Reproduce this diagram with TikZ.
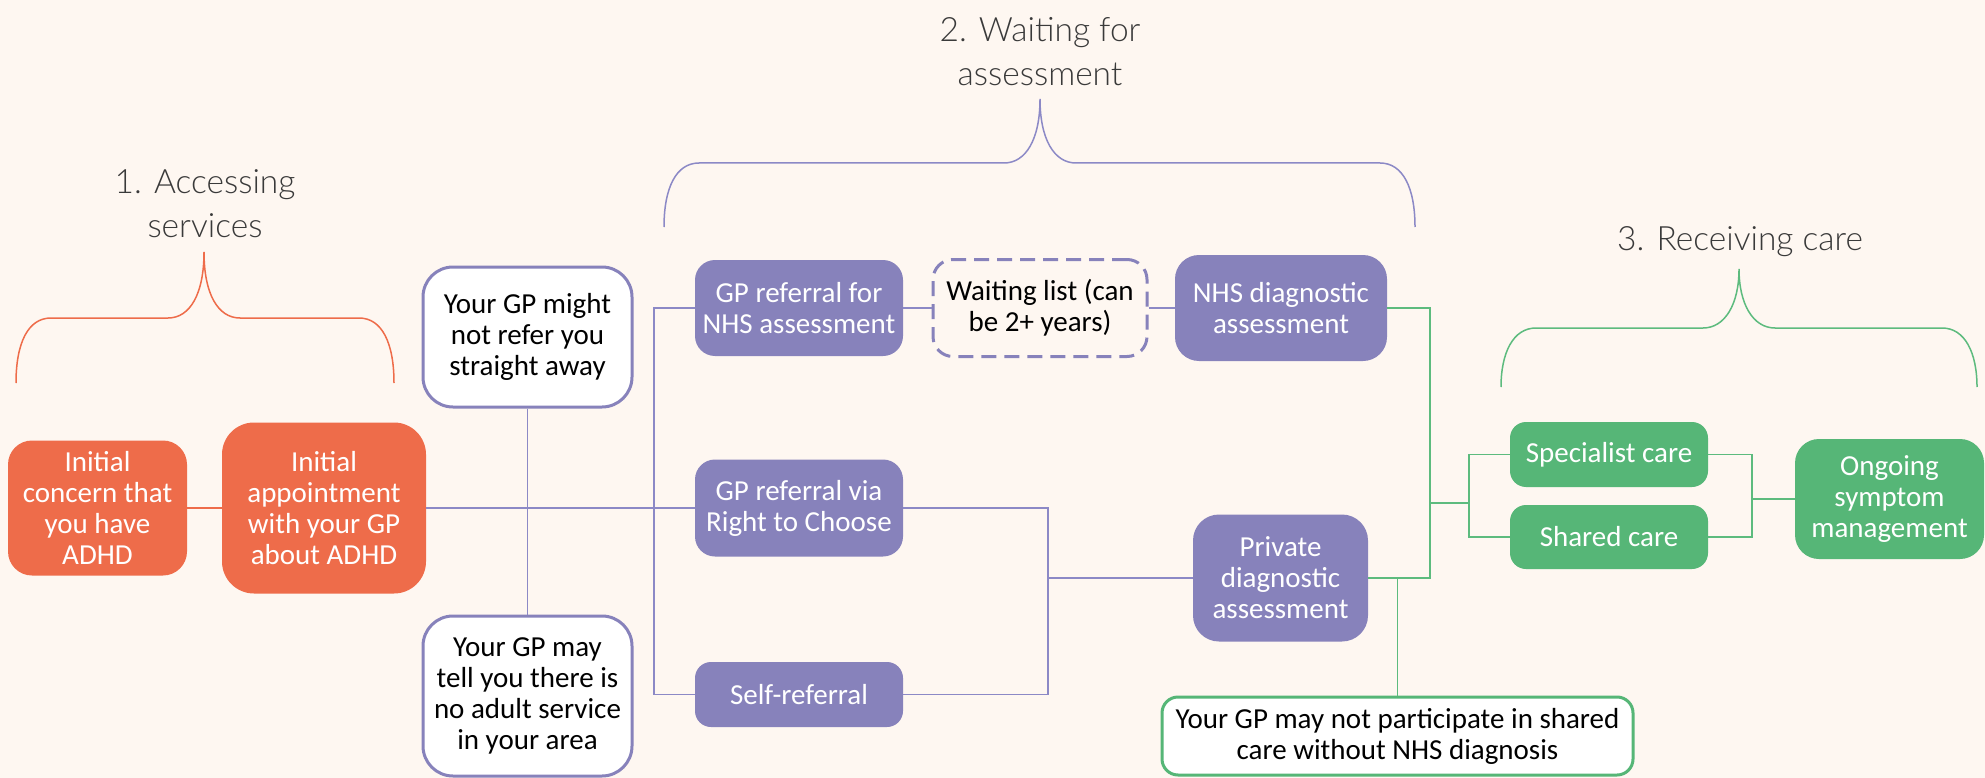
\documentclass[tikz,border=0pt]{standalone}
\usepackage{fontspec}
\setmainfont{Carlito}
\newfontfamily\titlefont{Lato Light}
\definecolor{bg}{HTML}{FEF7F1}
\definecolor{orng}{HTML}{EE6C4A}
\definecolor{purp}{HTML}{8782BB}
\definecolor{purpline}{HTML}{8C89C6}
\definecolor{grn}{HTML}{56B677}
\definecolor{grnline}{HTML}{5DBB7E}
\definecolor{titlegray}{HTML}{3A3A3A}
\newcommand{\mybrace}[7]{%
  \draw[#1, line width=1.5pt] ({#2},{#5}) .. controls ({#2},{#6+25}) and ({#2+12},{#6}) .. ({#2+35},{#6})
    -- ({#4-36},{#6}) .. controls ({#4-14},{#6}) and ({#4},{#6-24}) .. ({#4},{#7})
    .. controls ({#4},{#6-24}) and ({#4+14},{#6}) .. ({#4+36},{#6})
    -- ({#3-35},{#6}) .. controls ({#3-12},{#6}) and ({#3},{#6+25}) .. ({#3},{#5});}
\tikzset{
  box/.style={rounded corners=#1, inner sep=0pt, align=center,
    font=\fontsize{29}{31}\selectfont},
  box/.default=22pt,
  obox/.style={box=#1, fill=orng, text=white},
  obox/.default=26pt,
  pbox/.style={box=#1, fill=purp, text=white},
  pbox/.default=22pt,
  gbox/.style={box=#1, fill=grn, text=white},
  gbox/.default=16pt,
  pout/.style={box=#1, fill=white, draw=purp, line width=3pt, text=black},
  pout/.default=30pt,
  gout/.style={box=16pt, fill=white, draw=grn, line width=3pt, text=black},
  pdash/.style={box=20pt, draw=purp, line width=3pt, dash pattern=on 15pt off 8pt, text=black},
  oline/.style={draw=orng, line width=1.6pt},
  pline/.style={draw=purpline, line width=1.8pt},
  gline/.style={draw=grnline, line width=1.8pt},
  ttl/.style={font=\titlefont\fontsize{33.5}{44}\selectfont, text=titlegray, align=center, inner sep=0pt}
}
\begin{document}
\begin{tikzpicture}[x=1pt,y=-1pt]
\useasboundingbox[fill=bg] (0,0) rectangle (1985,778);

% titles
\node[ttl] (t1) at (205,204) {1. Accessing\\services};
\node[ttl] (t2) at (1040,52) {2. Waiting for\\assessment};
\node[ttl, anchor=base] (t3) at (1740,250) {3. Receiving care};

% braces
\mybrace{orng}{16}{394}{204}{383}{318}{252}
\mybrace{purpline}{664}{1415}{1040}{227}{163}{99}
\mybrace{grnline}{1501}{1977}{1739}{387}{328}{269}

% stage 1
\node[obox=24pt, minimum width=179, minimum height=135] (concern) at (97.5,508) {Initial\\concern that\\you have\\ADHD};
\node[obox=32pt, minimum width=204, minimum height=171] (appt) at (324,508) {Initial\\appointment\\with your GP\\about ADHD};

% outlined notes
\node[pout, minimum width=209, minimum height=140] (might) at (527.5,337) {Your GP might\\not refer you\\straight away};
\node[pout, minimum width=209, minimum height=160] (may) at (527.5,696) {Your GP may\\tell you there is\\no adult service\\in your area};

% stage 2
\node[pbox=20pt, minimum width=208, minimum height=96] (gpnhs) at (799,308) {GP referral for\\NHS assessment};
\node[pdash, minimum width=214, minimum height=97] (waiting) at (1040,308) {Waiting list (can\\be 2+ years)};
\node[pbox=24pt, minimum width=212, minimum height=106] (nhsdiag) at (1281,308) {NHS diagnostic\\assessment};
\node[pbox=20pt, minimum width=208, minimum height=97] (rtc) at (799,508) {GP referral via\\Right to Choose};
\node[pbox=16pt, minimum width=208, minimum height=65] (self) at (799,694.5) {Self-referral};
\node[pbox=26pt, minimum width=175, minimum height=127] (private) at (1280.5,578) {Private\\diagnostic\\assessment};

% stage 3
\node[gbox, minimum width=198, minimum height=65] (spec) at (1609,454.5) {Specialist care};
\node[gbox, minimum width=198, minimum height=64] (shared) at (1609,537) {Shared care};
\node[gbox=24pt, minimum width=189, minimum height=120] (ongoing) at (1889.5,499) {Ongoing\\symptom\\management};
\node[gout, minimum width=471, minimum height=78] (note) at (1397.5,736) {Your GP may not participate in shared\\care without NHS diagnosis};

% connectors stage 1
\draw[oline] (concern.east) -- (concern.east -| appt.west);
\draw[pline] (appt.east) -- (rtc.west);
\draw[pline] (might.south) -- (may.north);
\draw[pline] (gpnhs.west) -- ++(-41,0) coordinate (lj) |- (self.west);

% connectors stage 2
\draw[pline] (gpnhs.east) -- (waiting.west);
\draw[pline] (waiting.east) -- (nhsdiag.west);
\draw[pline] (rtc.east) -- ++(145,0) coordinate (rj) |- (self.east);
\draw[pline] (rj |- private.west) -- (private.west);

% connectors stage 3
\draw[gline] (nhsdiag.east) -- ++(43,0) coordinate (gj) -- (gj |- private.east) -- (private.east);
\coordinate (gm) at (1430,503);
\draw[gline] (gm) -- ++(39,0) coordinate (gk);
\draw[gline] (spec.west) -| (gk) |- (shared.west);
\draw[gline] (spec.east) -- ++(44,0) coordinate (gr) |- (shared.east);
\draw[gline] (gr |- ongoing.west) -- (ongoing.west);
\draw[gline] (note.north) -- (note.north |- private.east);
\end{tikzpicture}
\end{document}
